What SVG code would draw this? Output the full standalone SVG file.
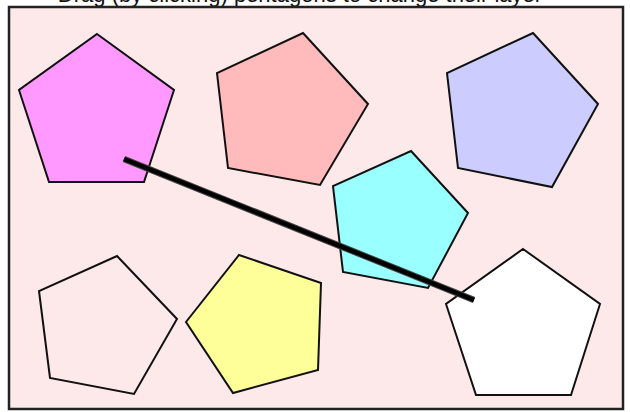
<svg xmlns="http://www.w3.org/2000/svg" width="630" height="412" viewBox="0 0 630 412">
<style>
.p{stroke:#111;stroke-width:2;stroke-linejoin:miter}
.t{font-family:"Liberation Sans",Arial,sans-serif;font-size:22px;fill:#111}
</style>
<rect width="630" height="412" fill="#ffffff"/>
<text class="t" x="300" y="2" text-anchor="middle">Drag (by clicking) pentagons to change their layer</text>
<rect x="9" y="7" width="614" height="402" fill="#fde9e9" stroke="#222" stroke-width="2.5"/>
<g id="pent-magenta"><polygon class="p" fill="#ff99ff" points="97,34 174,90 144,182 49,182 19,90"/></g>
<g id="pent-salmon"><polygon class="p" fill="#ffbbbb" points="303,33 368,104 320,185 228,168 217,73"/></g>
<g id="pent-lavender"><polygon class="p" fill="#ccccff" points="533,33 598,104 552,187 458,168 447,73"/></g>
<g id="pent-white-left"><polygon class="p" fill="#fde9e9" points="117,256 177,319 134,394 50,378 39,291"/></g>
<g id="pent-yellow"><polygon class="p" fill="#ffff99" points="239,255 321,283 318,370 233,393 186,322"/></g>
<g id="pent-cyan"><polygon class="p" fill="#99ffff" points="411,151 468,213 428,288 343,272 333,186"/></g>
<g id="pent-white-right"><polygon class="p" fill="#ffffff" points="523,249 600,304 571,395 476,395 446,304"/></g>
<g id="connectors">
<line x1="124" y1="159" x2="474" y2="300" stroke="#444" stroke-width="6.5"/>
<line x1="124" y1="159" x2="474" y2="300" stroke="#000" stroke-width="4.5"/>
</g>
</svg>
